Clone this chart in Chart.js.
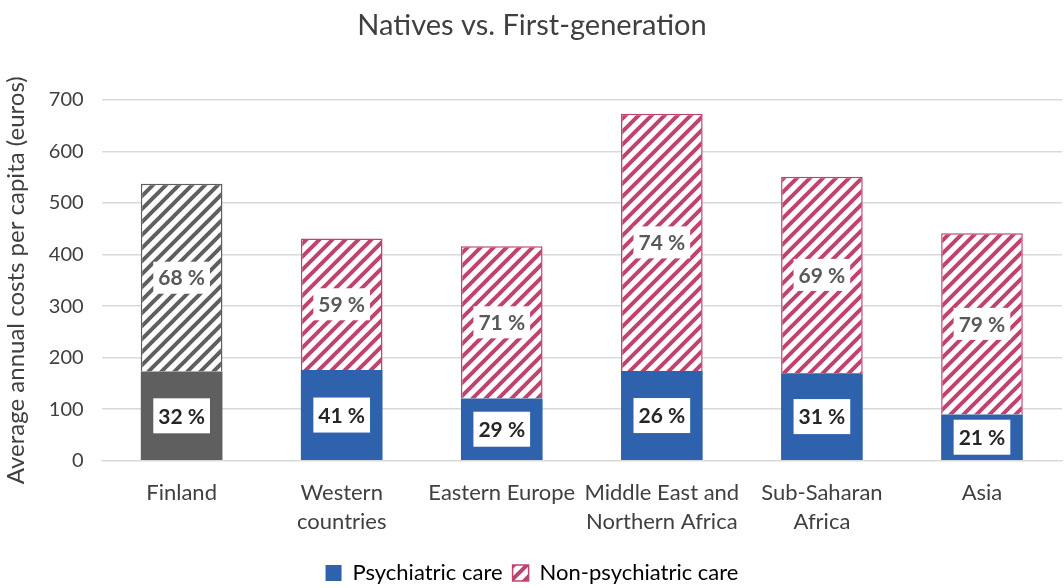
<!DOCTYPE html>
<html>
<head>
<meta charset="utf-8">
<script src="https://cdn.jsdelivr.net/npm/chart.js@4.4.1/dist/chart.umd.min.js"></script>
<style>
  html, body { margin: 0; padding: 0; background: #fff; }
  #wrap { width: 1064px; height: 588px; }
</style>
</head>
<body>
<div id="wrap"><canvas id="chart" width="1064" height="588"></canvas></div>
<script>
const categories = [
    "Finland",
    ["Western", "countries"],
    "Eastern Europe",
    ["Middle East and", "Northern Africa"],
    ["Sub-Saharan", "Africa"],
    "Asia",
];
const psychiatric = [173, 176, 121, 174, 170, 90]; // euros per capita
const nonPsychiatric = [364, 255, 295, 499, 381, 351];
const psychShare = [32, 41, 29, 26, 31, 21]; // percent labels
const nonPsychShare = [68, 59, 71, 74, 69, 79];

const BLUE = "#2E62AD";
const PINK = "#C1416F";
const DARK_GRAY = "#5F5F5F";
const FONT = "Lato, 'Open Sans', sans-serif";

function makeHatch(color) {
    const s = 13;
    const c = document.createElement("canvas");
    c.width = s;
    c.height = s;
    const g = c.getContext("2d");
    g.fillStyle = "#fff";
    g.fillRect(0, 0, s, s);
    g.strokeStyle = color;
    g.lineWidth = 4;
    g.lineCap = "square";
    g.beginPath();
    g.moveTo(-s, 2 * s); g.lineTo(2 * s, -s);
    g.moveTo(-2 * s, 2 * s); g.lineTo(s, -s);
    g.moveTo(0, 2 * s); g.lineTo(3 * s, -s);
    g.stroke();
    return g.createPattern(c, "repeat");
}

const pinkHatch = makeHatch(PINK);
const grayHatch = makeHatch(DARK_GRAY);

// white boxes with the share of each segment, centred in the segment
const barLabels = {
    id: "barLabels",
    afterDatasetsDraw(chart) {
        const ctx = chart.ctx;
        const shares = [psychShare, nonPsychShare];
        ctx.save();
        ctx.font = "bold 21px " + FONT;
        ctx.textAlign = "center";
        ctx.textBaseline = "middle";
        shares.forEach((vals, i) => {
            const meta = chart.getDatasetMeta(i);
            meta.data.forEach((bar, j) => {
                const { x, y, base } = bar.getProps(["x", "y", "base"], true);
                const cy = (y + base) / 2;
                const text = vals[j] + " %";
                const w = ctx.measureText(text).width + 10;
                const h = i === 0 ? 35 : 32;
                ctx.fillStyle = "#fff";
                ctx.fillRect(x - w / 2, cy - h / 2, w, h);
                ctx.fillStyle = i === 0 ? "#262626" : "#595959";
                ctx.fillText(text, x, cy + 1);
            });
        });
        ctx.restore();
    },
};

// push the legend a little lower, closer to the bottom edge
const legendNudge = {
    id: "legendNudge",
    afterLayout(chart) {
        if (chart.legend) {
            chart.legend.top += 6;
            chart.legend.bottom += 6;
        }
    },
};

new Chart(document.getElementById("chart"), {
    type: "bar",
    data: {
        labels: categories,
        datasets: [
            {
                label: "Psychiatric care",
                data: psychiatric,
                backgroundColor: psychiatric.map((v, i) => (i === 0 ? DARK_GRAY : BLUE)),
                borderWidth: 0,
            },
            {
                label: "Non-psychiatric care",
                data: nonPsychiatric,
                backgroundColor: nonPsychiatric.map((v, i) => (i === 0 ? grayHatch : pinkHatch)),
                borderColor: nonPsychiatric.map((v, i) => (i === 0 ? DARK_GRAY : PINK)),
                borderWidth: 1.5,
                borderSkipped: "bottom",
            },
        ],
    },
    options: {
        responsive: false,
        animation: false,
        datasets: {
            bar: { categoryPercentage: 1, barPercentage: 0.51 },
        },
        layout: { padding: { left: 2, right: 2, top: 8, bottom: 0 } },
        scales: {
            x: {
                stacked: true,
                grid: { display: false },
                border: { display: true, color: "#d9d9d9" },
                ticks: {
                    color: "#404040",
                    font: { family: FONT, size: 22, lineHeight: 1.3 },
                    maxRotation: 0,
                    autoSkip: false,
                    padding: 10,
                },
            },
            y: {
                stacked: true,
                min: 0,
                max: 700,
                ticks: {
                    stepSize: 100,
                    color: "#404040",
                    font: { family: FONT, size: 20 },
                    padding: 18,
                },
                grid: { color: "#d9d9d9", lineWidth: 1.5, drawTicks: false },
                border: { display: false },
                title: {
                    display: true,
                    text: "Average annual costs per capita (euros)",
                    color: "#404040",
                    font: { family: FONT, size: 24 },
                    padding: { top: 0, bottom: 0 },
                },
            },
        },
        plugins: {
            title: {
                display: true,
                text: "Natives vs. First-generation",
                color: "#404040",
                font: { family: FONT, size: 29, weight: "normal" },
                padding: { top: 0, bottom: 57 },
            },
            legend: {
                position: "bottom",
                labels: {
                    color: "#404040",
                    font: { family: FONT, size: 22 },
                    boxWidth: 16,
                    boxHeight: 16,
                    padding: 10,
                    generateLabels: () => [
                        { text: "Psychiatric care", fillStyle: BLUE, strokeStyle: BLUE, lineWidth: 0, datasetIndex: 0 },
                        { text: "Non-psychiatric care", fillStyle: pinkHatch, strokeStyle: PINK, lineWidth: 1.5, datasetIndex: 1 },
                    ],
                },
            },
            tooltip: { enabled: false },
        },
    },
    plugins: [barLabels, legendNudge],
});
</script>
</body>
</html>
